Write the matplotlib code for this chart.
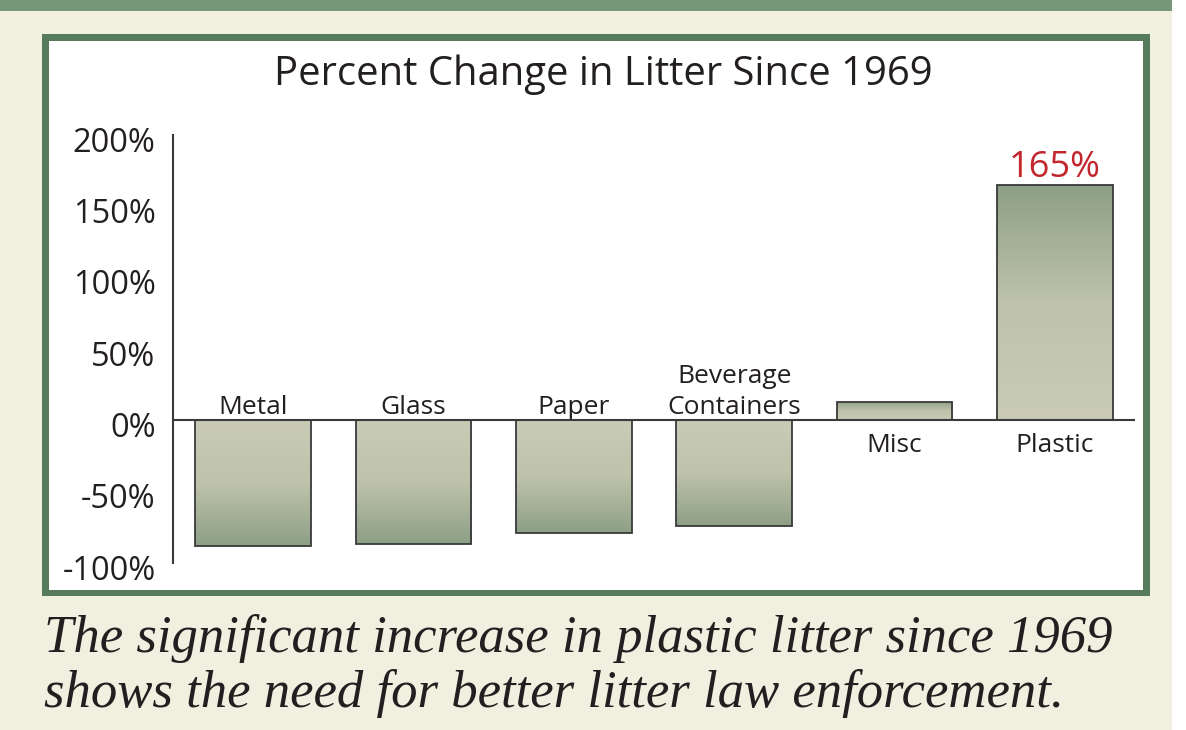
import numpy as np
import matplotlib
matplotlib.use("Agg")
import matplotlib.pyplot as plt
from matplotlib.patches import Rectangle
from matplotlib.colors import LinearSegmentedColormap
from matplotlib.transforms import ScaledTranslation

# data
categories = ["Metal", "Glass", "Paper", "Beverage\nContainers", "Misc", "Plastic"]
pct_change = [-88, -87, -79, -74, 13, 165]
yticks = [-100, -50, 0, 50, 100, 150, 200]
ytick_labels = ["-100%", "-50%", "0%", "50%", "100%", "150%", "200%"]

title = "Percent Change in Litter Since 1969"
caption = ("The significant increase in plastic litter since 1969\n"
           "shows the need for better litter law enforcement.")

cream = "#f1efdf"
frame_green = "#567b5b"
band_green = "#779779"
ink = "#231f20"
sans = "Open Sans"

W, H = 1186, 730
fig = plt.figure(figsize=(W / 100, H / 100), dpi=100, facecolor=cream)


def px_rect(x0, y0, x1, y1, **kw):
    # rectangle given in pixel coords measured from top-left
    fig.patches.append(Rectangle((x0 / W, 1 - y1 / H), (x1 - x0) / W, (y1 - y0) / H,
                                 transform=fig.transFigure, zorder=-10, **kw))


px_rect(0, 0, 1172, 11, facecolor=band_green, edgecolor="none")
px_rect(1172, 0, W, H, facecolor="white", edgecolor="none")
px_rect(42, 34, 1150, 596, facecolor=frame_green, edgecolor="none")
px_rect(49, 41, 1143, 590, facecolor="white", edgecolor="none")

ax = fig.add_axes([173 / W, 1 - 563 / H, 962 / W, 428 / H])
ax.set_zorder(5)
ax.set_facecolor("none")
ax.set_xlim(-0.5, 5.5)
ax.set_ylim(-100, 200)

grad_cmap = LinearSegmentedColormap.from_list("bar", ["#c9cbb6", "#bfc3ab", "#8c9f85"])
x = np.arange(len(categories))
bars = ax.bar(x, pct_change, width=0.723, facecolor="none", edgecolor="#3a3a3a",
              linewidth=1.3, zorder=3)
for b, v in zip(bars, pct_change):
    x0, w = b.get_x(), b.get_width()
    g = np.linspace(0, 1, 256).reshape(-1, 1)
    if v < 0:
        g = g[::-1]
    im = ax.imshow(g, cmap=grad_cmap, aspect="auto", origin="lower",
                   extent=(x0, x0 + w, min(0, v), max(0, v)), zorder=2)
    im.set_clip_path(b)

ax.axhline(0, color="#3a3a3a", linewidth=1.5, zorder=4)

# category names sit above the zero line for losses, below it for gains
for i, (name, v) in enumerate(zip(categories, pct_change)):
    if v < 0:
        ax.annotate(name, (i, 0), xytext=(0, 0.5), textcoords="offset points",
                    ha="center", va="bottom", fontsize=19, color=ink,
                    family=sans, linespacing=1.3)
    else:
        ax.annotate(name, (i, 0), xytext=(0, -23), textcoords="offset points",
                    ha="center", va="baseline", fontsize=19, color=ink, family=sans)

ax.annotate(f"{pct_change[-1]}%", (5, pct_change[-1]), xytext=(0, 6),
            textcoords="offset points", ha="center", va="baseline",
            fontsize=26, color="#c1272d", family=sans)

for s in ["top", "right", "bottom"]:
    ax.spines[s].set_visible(False)
ax.spines["left"].set_color("#3a3a3a")
ax.spines["left"].set_linewidth(1.5)
ax.set_xticks([])
ax.set_yticks(yticks)
ax.set_yticklabels(ytick_labels, fontsize=23.5, color=ink, family=sans)
ax.tick_params(axis="y", length=0, pad=12.5)
for lab in ax.get_yticklabels():
    lab.set_transform(lab.get_transform() + ScaledTranslation(0, -4 / 100, fig.dpi_scale_trans))

fig.text(603 / W, 1 - 75 / H, title, ha="center", va="center", fontsize=28.8,
         color=ink, family=sans)

# two-line caption, anchored on the baseline of its last line
fig.text(44 / W, 1 - 707 / H, caption, ha="left", va="baseline", fontsize=38,
         color=ink, family="Liberation Serif", style="italic", linespacing=1.16)

fig.savefig("out.png", dpi=100, facecolor=cream)
